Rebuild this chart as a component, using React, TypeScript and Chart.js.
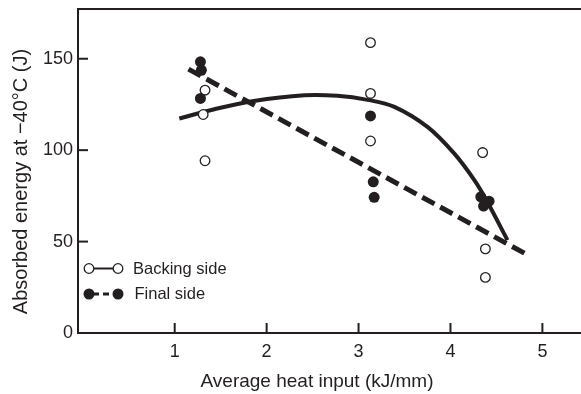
import React, { useEffect, useRef } from "react";
import { Chart, registerables } from "chart.js";

Chart.register(...registerables);

const xTickValues = [1, 2, 3, 4, 5];
const yTickValues = [0, 50, 100, 150];

const backingX = [1.33, 1.31, 1.33, 3.13, 3.13, 3.13, 4.35, 4.38, 4.38];
const backingY = [132.8, 119.5, 94.2, 158.8, 131, 105, 98.7, 46, 30.4];

const finalX = [1.28, 1.29, 1.28, 3.13, 3.16, 3.17, 4.33, 4.42, 4.36];
const finalY = [148.3, 143.7, 128.3, 118.7, 82.7, 74.2, 74.5, 72.1, 69.4];

const backingFitX = [1.05, 1.4, 1.86, 2.41, 2.77, 3.1, 3.39, 3.75, 4.04, 4.26, 4.39, 4.62];
const backingFitY = [117.3, 122, 126.9, 130, 129.7, 127.5, 123.7, 112.7, 98.2, 83.6, 72.7, 50.8];

const finalFitX = [1.15, 4.81];
const finalFitY = [144.3, 43.5];

const legendLabels = ["Backing side", "Final side"];
const xTitle = "Average heat input (kJ/mm)";
const yTitle = "Absorbed energy at \u221240\u00b0C (J)";

const INK = "#231f20";
const FONT = "'Liberation Sans', Arial, Helvetica, sans-serif";

const zip = (xs: number[], ys: number[]) => xs.map((x, i) => ({ x, y: ys[i] }));

const decorPlugin = {
  id: "decor",
  afterDraw(chart: any) {
    const ctx = chart.ctx;
    const area = chart.chartArea;
    const xs = chart.scales.x;
    const ys = chart.scales.y;
    ctx.save();
    ctx.strokeStyle = INK;
    ctx.lineWidth = 2;
    // top frame line
    ctx.beginPath();
    ctx.moveTo(area.left - 1, area.top);
    ctx.lineTo(area.right, area.top);
    ctx.stroke();
    // inward tick marks
    xs.ticks.forEach((t: any) => {
      const px = xs.getPixelForValue(t.value);
      ctx.beginPath();
      ctx.moveTo(px, area.bottom);
      ctx.lineTo(px, area.bottom - 10);
      ctx.stroke();
    });
    ys.ticks.forEach((t: any) => {
      const py = ys.getPixelForValue(t.value);
      ctx.beginPath();
      ctx.moveTo(area.left, py);
      ctx.lineTo(area.left + 10, py);
      ctx.stroke();
    });

    // axis titles
    ctx.fillStyle = INK;
    ctx.font = `19px ${FONT}`;
    ctx.textAlign = "center";
    ctx.textBaseline = "alphabetic";
    ctx.fillText(xTitle, 317, 386.5);
    ctx.save();
    ctx.translate(21, 181.5);
    ctx.rotate(-Math.PI / 2);
    ctx.font = `20px ${FONT}`;
    ctx.textBaseline = "middle";
    ctx.fillText(yTitle, 0, 0);
    ctx.restore();

    // legend
    const rows = [
      { y: 268.5, filled: false, dash: [] as number[], lw: 2 },
      { y: 294, filled: true, dash: [6, 4], lw: 3 },
    ];
    rows.forEach((r, i) => {
      ctx.save();
      ctx.strokeStyle = INK;
      ctx.lineWidth = r.lw;
      ctx.setLineDash(r.dash);
      ctx.beginPath();
      ctx.moveTo(93, r.y);
      ctx.lineTo(114, r.y);
      ctx.stroke();
      ctx.setLineDash([]);
      [89, 118].forEach((cx) => {
        ctx.beginPath();
        ctx.arc(cx, r.y, r.filled ? 5.5 : 4.8, 0, Math.PI * 2);
        if (r.filled) {
          ctx.fillStyle = INK;
          ctx.fill();
        } else {
          ctx.fillStyle = "#ffffff";
          ctx.fill();
          ctx.lineWidth = 1.3;
          ctx.stroke();
        }
      });
      ctx.fillStyle = INK;
      ctx.font = `16.5px ${FONT}`;
      ctx.textAlign = "left";
      ctx.textBaseline = "middle";
      ctx.fillText(legendLabels[i], i === 0 ? 133 : 134.5, r.y + 0.5);
      ctx.restore();
    });
    ctx.restore();
  },
};

export default function App() {
  const ref = useRef<HTMLCanvasElement | null>(null);

  useEffect(() => {
    if (!ref.current) return;
    const chart = new Chart(ref.current, {
      type: "scatter",
      data: {
        datasets: [
          {
            label: legendLabels[0],
            data: zip(backingX, backingY),
            pointRadius: 4.8,
            pointBackgroundColor: "#ffffff",
            pointBorderColor: INK,
            pointBorderWidth: 1.3,
            showLine: false,
            order: 0,
          },
          {
            label: legendLabels[1],
            data: zip(finalX, finalY),
            pointRadius: 5.5,
            pointBackgroundColor: INK,
            pointBorderColor: INK,
            pointBorderWidth: 0,
            showLine: false,
            order: 0,
          },
          {
            label: legendLabels[0] + " fit",
            data: zip(backingFitX, backingFitY),
            showLine: true,
            borderColor: INK,
            borderWidth: 4,
            pointRadius: 0,
            tension: 0.35,
            fill: false,
            order: 1,
          },
          {
            label: legendLabels[1] + " fit",
            data: zip(finalFitX, finalFitY),
            showLine: true,
            borderColor: INK,
            borderWidth: 5,
            borderDash: [14, 6.5],
            pointRadius: 0,
            fill: false,
            order: 1,
          },
        ],
      },
      options: {
        animation: false,
        responsive: false,
        devicePixelRatio: 1,
        layout: { autoPadding: false, padding: { top: 9, right: 0, left: 0, bottom: 0 } },
        plugins: {
          legend: { display: false },
          tooltip: { enabled: false },
          title: { display: false },
        },
        scales: {
          x: {
            type: "linear",
            min: -0.052,
            max: 5.42,
            afterBuildTicks: (s: any) => {
              s.ticks = xTickValues.map((v) => ({ value: v }));
            },
            afterFit: (s: any) => {
              s.height = 61;
              s.paddingLeft = 0;
              s.paddingRight = 0;
            },
            grid: { display: false, drawTicks: false },
            border: { display: true, color: INK, width: 2 },
            ticks: {
              color: INK,
              font: { family: FONT, size: 18 },
              padding: 8,
              maxRotation: 0,
              autoSkip: false,
            },
          },
          y: {
            type: "linear",
            min: 0,
            max: 177.2,
            afterBuildTicks: (s: any) => {
              s.ticks = yTickValues.map((v) => ({ value: v }));
            },
            afterFit: (s: any) => {
              s.width = 78;
              s.paddingTop = 0;
              s.paddingBottom = 0;
            },
            grid: { display: false, drawTicks: false },
            border: { display: true, color: INK, width: 2 },
            ticks: {
              color: INK,
              font: { family: FONT, size: 18 },
              padding: 5,
              autoSkip: false,
            },
          },
        },
      },
      plugins: [decorPlugin],
    });
    return () => chart.destroy();
  }, []);

  return (
    <div style={{ position: "absolute", left: 0, top: 0, width: 581, height: 394, background: "#ffffff" }}>
      <canvas ref={ref} width={581} height={394} style={{ display: "block" }} />
    </div>
  );
}
